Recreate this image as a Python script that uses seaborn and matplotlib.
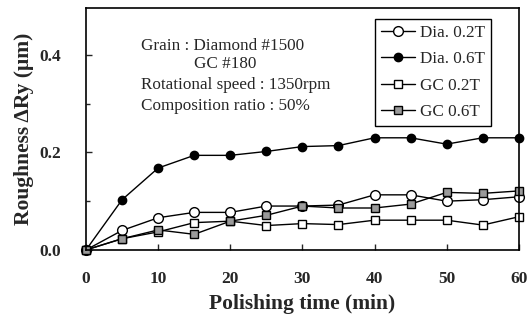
import numpy as np
import pandas as pd
import matplotlib
matplotlib.use("Agg")
import matplotlib.pyplot as plt
import seaborn as sns

time_min = [0, 5, 10, 15, 20, 25, 30, 35, 40, 45, 50, 55, 60]
dia_02 = [0.0, 0.040, 0.066, 0.077, 0.077, 0.090, 0.090, 0.092, 0.113, 0.113, 0.100, 0.103, 0.109]
dia_06 = [0.0, 0.103, 0.168, 0.194, 0.194, 0.202, 0.212, 0.214, 0.230, 0.230, 0.217, 0.230, 0.230]
gc_02 = [0.0, 0.023, 0.037, 0.056, 0.059, 0.050, 0.054, 0.052, 0.061, 0.061, 0.061, 0.051, 0.068]
gc_06 = [0.0, 0.023, 0.041, 0.032, 0.059, 0.071, 0.090, 0.086, 0.086, 0.094, 0.118, 0.116, 0.121]
series_names = ["Dia. 0.2T", "Dia. 0.6T", "GC 0.2T", "GC 0.6T"]

df = pd.DataFrame({"time": time_min * 4,
                   "ry": dia_02 + dia_06 + gc_02 + gc_06,
                   "series": np.repeat(series_names, len(time_min))})

sns.set_style("ticks")
plt.rcParams["font.family"] = ["Liberation Serif", "DejaVu Serif"]

fig = plt.figure(figsize=(5.31, 3.25), dpi=100)
ax = fig.add_axes([0.162, 0.231, 0.815, 0.744])

# marker style per series
styles = {
    "Dia. 0.2T": dict(marker="o", mfc="white", ms=7),
    "Dia. 0.6T": dict(marker="o", mfc="black", ms=6),
    "GC 0.2T": dict(marker="s", mfc="white", ms=6),
    "GC 0.6T": dict(marker="s", mfc="#9a9a9a", ms=6),
}
for name in series_names:
    st = styles[name]
    sub = df[df["series"] == name]
    sns.lineplot(data=sub, x="time", y="ry", ax=ax, color="black", lw=1.0,
                 marker=st["marker"], markerfacecolor=st["mfc"], markeredgecolor="black",
                 markeredgewidth=1.0, markersize=st["ms"], label=name, clip_on=False)

ax.set_xlim(0, 60)
ax.set_ylim(0, 0.496)
ax.set_xticks([0, 10, 20, 30, 40, 50, 60])
ax.set_yticks([0.0, 0.2, 0.4])
ax.set_yticks([0.1, 0.3], minor=True)
ax.set_yticklabels(["0.0", "0.2", "0.4"])
ax.tick_params(axis="x", direction="in", length=4, width=1, labelsize=12.5, pad=15)
ax.tick_params(axis="y", direction="in", length=4, width=1, labelsize=12.5, pad=18)
ax.tick_params(axis="y", which="minor", direction="in", length=3, width=1)
for lab in ax.get_xticklabels() + ax.get_yticklabels():
    lab.set_fontweight("bold")
for sp in ax.spines.values():
    sp.set_visible(True)
    sp.set_linewidth(1.2)
    sp.set_color("black")

ax.set_xlabel("Polishing time (min)", fontsize=15.5, fontweight="bold", labelpad=5)
ax.set_ylabel("Roughness ΔRy (μm)", fontsize=15.5, fontweight="bold", labelpad=4)

txt_kw = dict(transform=ax.transData, fontsize=12.3, va="center", ha="left")
ax.text(7.6, 0.418, "Grain : Diamond #1500", **txt_kw)
ax.text(15.0, 0.381, "GC #180", **txt_kw)
ax.text(7.6, 0.338, "Rotational speed : 1350rpm", **txt_kw)
ax.text(7.6, 0.295, "Composition ratio : 50%", **txt_kw)

leg = ax.legend(loc="upper right", bbox_to_anchor=(0.955, 0.99), fontsize=12.3,
                frameon=True, fancybox=False, edgecolor="black", framealpha=1,
                handlelength=2.0, handletextpad=0.3, labelspacing=0.6, borderpad=0.35)
leg.get_frame().set_linewidth(1.0)

fig.savefig("out.png", dpi=100)
